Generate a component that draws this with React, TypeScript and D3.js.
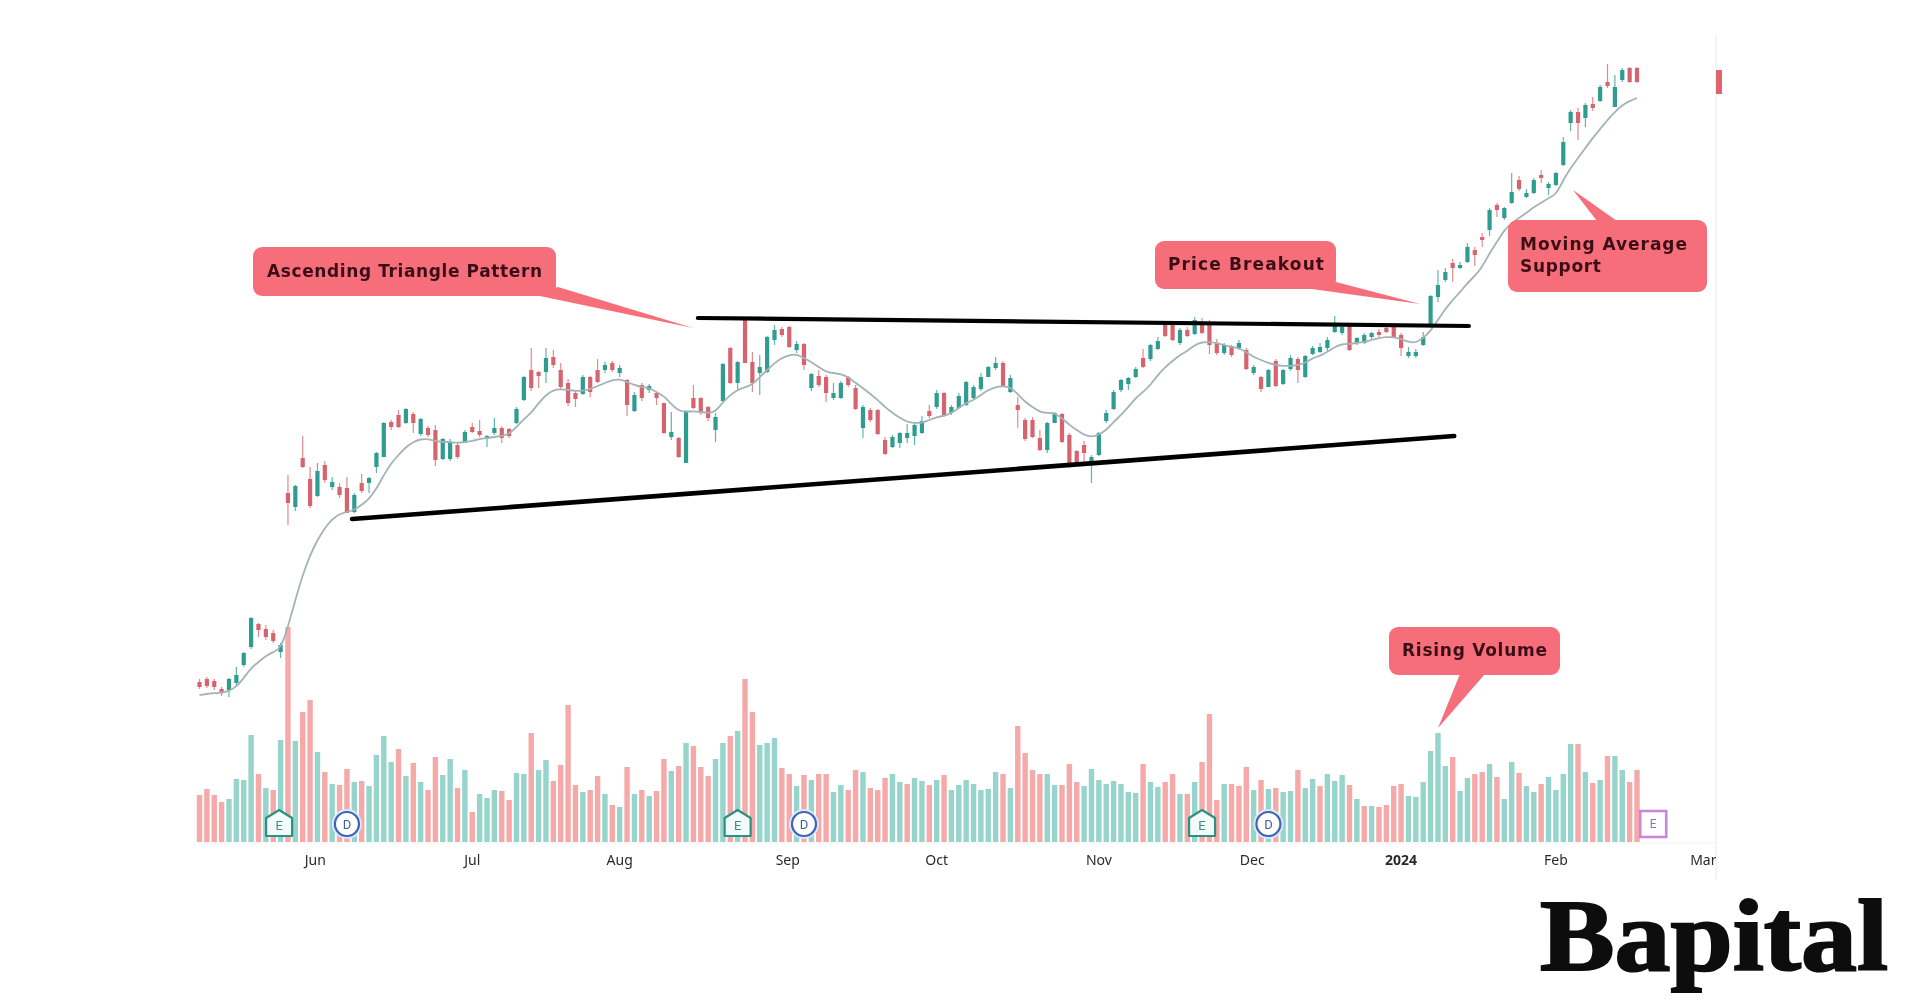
import * as d3 from "d3";

const opens = [168,171,169,161,160,167,185,203,226,221,217,198,357,343,392,371,354,385,363,363,362,338,367,367,383,393,428,435,427,436,416,422,420,391,391,405,407,423,419,411,417,422,421,427,450,480,478,478,493,480,467,457,456,473,480,480,487,477,470,439,465,460,457,447,413,412,387,452,452,443,420,449,502,467,530,488,477,478,510,521,523,500,506,462,474,473,452,452,473,462,422,440,440,410,403,407,412,414,417,439,443,457,437,442,445,452,461,473,482,487,458,445,430,430,412,400,427,436,415,399,405,387,395,429,441,460,466,473,492,491,501,527,527,507,520,516,528,528,507,497,504,502,500,477,473,463,489,466,481,491,473,496,498,502,518,517,527,507,507,513,518,522,524,515,494,494,505,523,553,570,587,582,588,600,613,620,645,632,647,670,653,657,675,662,665,685,727,738,732,746,749,768,743,770,782,782];
const highs = [171,173,171,163,172,183,198,233,227,225,220,207,375,365,414,383,387,389,373,367,373,357,376,373,398,428,430,440,442,438,432,424,425,412,411,407,420,427,430,415,432,424,422,443,474,502,479,502,500,487,471,460,475,474,491,488,489,485,471,458,467,466,458,447,438,413,440,465,453,444,437,487,503,489,531,498,495,514,525,523,524,509,507,477,480,475,467,469,474,465,445,442,441,413,415,418,426,427,434,445,460,458,445,457,469,465,477,484,493,489,475,453,432,433,420,428,438,437,417,400,409,395,418,440,460,471,473,483,501,506,513,527,528,522,523,533,532,530,511,507,505,510,502,485,474,481,491,481,495,493,495,504,507,513,534,527,527,513,517,518,521,523,527,517,503,501,518,555,580,582,591,588,607,603,617,642,647,643,677,674,661,672,680,668,678,713,740,742,747,753,765,786,775,782,783,783];
const lows = [161,162,160,154,153,165,183,201,213,210,207,192,325,339,382,342,353,367,360,352,337,337,357,357,377,393,420,422,426,417,414,413,384,390,389,391,407,417,413,403,415,407,412,426,449,459,462,467,482,460,444,443,455,453,467,477,478,473,434,438,449,457,445,416,410,392,387,441,435,429,408,448,466,460,487,458,455,477,505,513,502,497,480,459,463,448,450,451,463,440,412,428,415,395,402,402,407,405,416,432,441,433,435,441,444,451,459,473,480,463,457,422,409,412,399,397,427,407,382,384,387,367,394,427,440,458,460,472,482,489,500,513,509,505,513,515,516,496,495,495,493,500,480,475,458,463,463,465,479,467,472,495,497,499,517,515,499,505,506,511,513,517,512,494,492,492,504,522,548,568,568,581,587,584,603,614,633,630,646,659,652,656,667,655,664,684,719,710,723,739,748,762,743,768,767,767];
const closes = [163,164,163,157,171,175,197,232,220,213,209,205,347,364,383,344,379,370,368,355,337,355,359,372,397,427,423,423,441,427,431,415,390,411,408,393,418,418,415,414,422,412,414,441,473,462,474,492,485,463,447,451,473,458,468,485,480,482,445,455,452,464,452,417,418,393,439,442,437,432,433,486,467,488,487,467,483,513,520,515,503,506,485,476,465,457,457,467,465,441,443,430,416,396,413,417,417,425,429,434,457,434,443,454,468,463,473,483,487,463,472,440,411,413,400,427,437,408,387,387,397,393,417,437,458,470,472,481,483,505,509,514,510,520,514,530,517,505,497,505,495,507,481,483,461,480,464,480,492,480,494,502,503,510,525,523,500,512,515,517,515,518,513,502,498,498,513,554,565,578,582,585,603,595,610,640,640,642,658,661,657,670,672,666,677,708,738,727,745,742,763,764,763,780,768,768];
const movingAverage = [155,156,157,157,159,163,172,182,188,194,198,201,223,250,275,295,310,322,331,336,338,340,345,351,361,375,387,395,403,408,411,411,409,408,408,407,408,409,411,412,413,414,416,423,431,437,447,455,460,461,460,459,459,461,464,467,470,471,468,465,463,462,458,454,446,439,438,439,438,437,438,448,455,460,463,465,473,480,487,492,495,496,492,488,483,478,477,476,473,467,462,456,450,443,437,432,428,427,427,430,433,434,437,442,447,450,455,460,463,464,463,456,448,443,438,437,437,432,425,420,415,413,415,420,428,435,443,452,458,465,475,483,489,495,499,505,508,508,507,505,503,502,498,493,490,487,485,484,484,485,487,492,494,498,503,506,506,507,508,510,512,513,513,511,508,507,512,519,530,541,550,558,567,574,583,597,608,620,627,632,637,643,647,652,655,670,682,692,702,712,721,730,738,745,749,752];
const volumes = [47,53,47,40,43,63,62,107,68,54,52,102,215,101,130,142,90,70,58,57,73,60,61,56,87,106,80,93,66,79,60,52,85,67,83,54,72,30,48,44,52,51,42,69,68,109,72,82,61,77,137,57,50,52,66,48,37,35,75,48,52,46,51,83,71,76,99,96,75,66,83,99,106,111,163,130,97,99,104,74,68,56,67,62,68,68,50,57,52,72,70,54,52,64,68,60,58,64,61,57,62,67,52,57,62,58,52,53,70,68,54,116,89,72,68,68,57,57,78,60,56,73,62,58,61,58,50,49,78,60,55,60,68,48,48,60,80,128,42,58,58,56,75,52,62,53,54,50,51,72,54,63,56,68,61,67,57,43,36,36,35,37,56,58,46,45,60,91,109,76,85,51,64,68,70,78,65,43,80,69,56,50,58,65,52,68,98,98,70,59,62,86,86,72,60,72];
const volumeSide = ("RRRRGGGGRG" + "RGRGRRGRGR" + "RGRGGGGRGR" + "GRRGGRGRGG" + "GRRGGRGGRR" + "RRGRRGRGRG" + "RGRRGRGRRR" + "GGRGRRGGGR" + "RGRGRRGGRR" + "GRRRGGRGGR" + "GRGGGGGGGR" + "GRRRRGGRRR" + "GGGGGGGGRG" + "GRRGRGRRRG" + "RRRGRGRGGR" + "GGRGGGRGRG" + "RRRRGGGGGG" + "RGGRRGRGGR" + "GGRGGGGRGR" + "GRGGRR").split("");

const monthTicks = [15.7, 37, 57, 79.8, 100, 122, 142.8, 163, 184, 204];
const monthLabels = ["Jun", "Jul", "Aug", "Sep", "Oct", "Nov", "Dec", "2024", "Feb", "Mar"];

const resistanceLine: [number, number][] = [[67.6, 532], [172.2, 524]];
const supportLine: [number, number][] = [[20.7, 331], [170.2, 414]];

const eventBars = [10.8, 20, 73, 82, 136, 145, 197.2];
const eventKinds = ["E", "D", "E", "D", "E", "D", "N"];

const UP = "#2f9c8f";
const DOWN = "#d6636d";
const VOL_UP = "#96d4cc";
const VOL_DOWN = "#f5aaa9";
const NOTE = "#f56e7a";

const x = d3.scaleLinear().domain([0, 195]).range([199.5, 1637]);
const y = d3.scaleLinear().domain([0, 850]).range([850, 0]);
const vol = d3.scaleLinear().domain([0, 215]).range([842, 627]);

const maPath = d3
  .line<number>()
  .x((_, i) => x(i))
  .y((d) => y(d))
  .curve(d3.curveBasis)(movingAverage);

const trendPath = d3
  .line<[number, number]>()
  .x((d) => x(d[0]))
  .y((d) => y(d[1]));

function Callout({ box, tail, lines, widths, textX }: any) {
  const [bx, by, bw, bh] = box;
  const cy = by + bh / 2;
  return (
    <g>
      <rect x={bx} y={by} width={bw} height={bh} rx={9} fill={NOTE} />
      <polygon points={tail.map((p: number[]) => p.join(",")).join(" ")} fill={NOTE} />
      {lines.map((t: string, i: number) => (
        <text
          key={t}
          x={textX}
          y={cy + (i - (lines.length - 1) / 2) * 22 - 1}
          dy="0.36em"
          textLength={widths[i]}
          fontFamily="'DejaVu Sans', sans-serif"
          fontWeight={700}
          fontSize={17}
          fill="#3c1119"
        >
          {t}
        </text>
      ))}
    </g>
  );
}

function EventMark({ bar, kind }: { bar: number; kind: string }) {
  const cx = x(bar);
  const cy = 824;
  if (kind === "D") {
    return (
      <g>
        <circle cx={cx} cy={cy} r={15} fill="#dce8fb" />
        <circle cx={cx} cy={cy} r={12} fill="#fff" stroke="#3f63b5" strokeWidth={2.2} />
        <text x={cx} y={cy} dy="0.36em" textAnchor="middle" fontSize={13} fontFamily="Roboto" fill="#3f5f9f">D</text>
      </g>
    );
  }
  if (kind === "N") {
    return (
      <g>
        <rect x={cx - 13} y={cy - 13} width={26} height={26} fill="#fff" stroke="#cb86dc" strokeWidth={2.6} />
        <text x={cx} y={cy} dy="0.36em" textAnchor="middle" fontSize={12} fontFamily="Roboto" fill="#9a70a8">E</text>
      </g>
    );
  }
  return (
    <g>
      <path
        d={`M${cx - 13},${cy - 6} L${cx},${cy - 14} L${cx + 13},${cy - 6} L${cx + 13},${cy + 12} L${cx - 13},${cy + 12} Z`}
        fill="#f2fbf9"
        stroke="#2f8f83"
        strokeWidth={2.2}
        strokeLinejoin="round"
      />
      <text x={cx} y={cy + 1} dy="0.36em" textAnchor="middle" fontSize={13} fontFamily="Roboto" fill="#4a8a80">E</text>
    </g>
  );
}

export default function App() {
  return (
    <svg
      width={1920}
      height={1008}
      style={{ position: "absolute", left: 0, top: 0, background: "#fff" }}
    >
      <defs>
        <clipPath id="pane">
          <rect x={190} y={0} width={1526} height={1008} />
        </clipPath>
        <filter id="soft" x="0" y="0" width="100%" height="100%" filterUnits="userSpaceOnUse">
          <feGaussianBlur stdDeviation={0.6} />
        </filter>
      </defs>

      <g filter="url(#soft)">
        <line x1={1716} x2={1716} y1={35} y2={880} stroke="#f1f1f1" strokeWidth={1.5} />
        <line x1={199} x2={1716} y1={843} y2={843} stroke="#f1f1f1" />

        {/* volume */}
        {volumes.map((v, i) => (
          <rect
            key={i}
            x={x(i) - 2.7}
            y={vol(v)}
            width={5.4}
            height={vol(0) - vol(v)}
            fill={volumeSide[i] === "G" ? VOL_UP : VOL_DOWN}
          />
        ))}

        {/* candles */}
        {opens.map((o, i) => {
          const c = closes[i];
          const col = c >= o ? UP : DOWN;
          return (
            <g key={i}>
              <line x1={x(i)} x2={x(i)} y1={y(highs[i])} y2={y(lows[i])} stroke={col} strokeWidth={1.2} opacity={0.75} />
              <rect
                x={x(i) - 2.1}
                y={y(Math.max(o, c))}
                width={4.2}
                height={Math.max(1.5, Math.abs(y(o) - y(c)))}
                fill={col}
              />
            </g>
          );
        })}

        <path d={maPath ?? ""} fill="none" stroke="#a3b3b6" strokeWidth={1.8} />

        <path d={trendPath(resistanceLine) ?? ""} stroke="#000" strokeWidth={4.2} strokeLinecap="round" />
        <path d={trendPath(supportLine) ?? ""} stroke="#000" strokeWidth={4.6} strokeLinecap="round" />

        {eventBars.map((b, i) => (
          <EventMark key={i} bar={b} kind={eventKinds[i]} />
        ))}

        <rect x={1716} y={70} width={6} height={24} fill="#e0656b" />

        {/* month axis */}
        <g clipPath="url(#pane)">
          {monthTicks.map((t, i) => (
            <text
              key={t}
              x={x(t)}
              y={860}
              dy="0.36em"
              textAnchor="middle"
              fontFamily="'Noto Sans', sans-serif"
              fontSize={14}
              fontWeight={monthLabels[i] === "2024" ? 700 : 400}
              fill="#2a2a2a"
            >
              {monthLabels[i]}
            </text>
          ))}
        </g>

        <Callout
          box={[253, 247, 303, 49]}
          tail={[[535, 295], [558, 287], [693, 328]]}
          lines={["Ascending Triangle Pattern"]}
          widths={[275]}
          textX={267}
        />
        <Callout
          box={[1155, 241, 181, 48]}
          tail={[[1312, 289], [1336, 282], [1420, 304]]}
          lines={["Price Breakout"]}
          widths={[156]}
          textX={1168}
        />
        <Callout
          box={[1508, 220, 199, 72]}
          tail={[[1597, 221], [1617, 221], [1573, 190]]}
          lines={["Moving Average", "Support"]}
          widths={[167, 81]}
          textX={1520}
        />
        <Callout
          box={[1389, 627, 171, 48]}
          tail={[[1460, 674], [1485, 674], [1438, 728]]}
          lines={["Rising Volume"]}
          widths={[145]}
          textX={1402}
        />

        <text
          x={1540}
          y={970}
          textLength={348}
          lengthAdjust="spacingAndGlyphs"
          fontFamily="'Liberation Serif', serif"
          fontWeight={700}
          fontSize={101}
          fill="#0c0c0c"
          stroke="#0c0c0c"
          strokeWidth={2}
        >
          Bapital
        </text>
      </g>
    </svg>
  );
}
